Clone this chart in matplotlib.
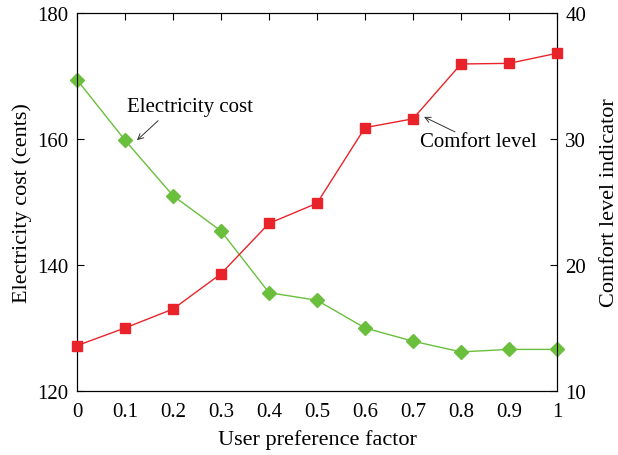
import matplotlib.pyplot as plt

plt.rcParams['font.family'] = 'Liberation Serif'

# User preference factor
factor = [0, 0.1, 0.2, 0.3, 0.4, 0.5, 0.6, 0.7, 0.8, 0.9, 1.0]
tick_labels = ['0', '0.1', '0.2', '0.3', '0.4', '0.5', '0.6', '0.7', '0.8', '0.9', '1']

# Electricity cost (cents), left axis
cost = [169.4, 159.8, 151.0, 145.4, 135.6, 134.4, 130.0, 127.9, 126.2, 126.6, 126.6]

# Comfort level indicator, right axis
comfort = [13.6, 15.0, 16.5, 19.3, 23.3, 24.9, 30.9, 31.6, 35.95, 36.0, 36.8]

green = '#6abf3c'
red = '#e8242a'

fig = plt.figure(figsize=(6.18, 4.56), dpi=100)
ax = fig.add_axes([0.1246, 0.1404, 0.7767, 0.8290])
ax2 = ax.twinx()

ax.plot(factor, cost, color=green, marker='D', markersize=7, linewidth=1, clip_on=False, zorder=3)
ax2.plot(factor, comfort, color=red, marker='s', markersize=7.5, linewidth=1, clip_on=False, zorder=3)

ax.set_xlim(0, 1)
ax.set_ylim(120, 180)
ax2.set_ylim(10, 40)
ax.set_xticks(factor)
ax.set_xticklabels(tick_labels)
ax.set_yticks([120, 140, 160, 180])
ax2.set_yticks([10, 20, 30, 40])

ax.tick_params(axis='x', direction='in', top=True, bottom=False, length=5, labelsize=15, pad=8)
ax.tick_params(axis='y', direction='in', length=5, labelsize=15, pad=6)
ax2.tick_params(axis='y', direction='in', length=5, labelsize=15, pad=6)

ax.set_xlabel('User preference factor', fontsize=16, labelpad=6)
ax.set_ylabel('Electricity cost (cents)', fontsize=16, labelpad=4)
ax2.set_ylabel('Comfort level indicator', fontsize=16, labelpad=10)

arrow = dict(arrowstyle='->', color='#333333', lw=0.7, shrinkA=0, shrinkB=0)
ax.text(0.104, 165.2, 'Electricity cost', fontsize=15, va='center')
ax.annotate('', xy=(0.125, 159.8), xytext=(0.169, 162.9), arrowprops=arrow)
ax2.text(0.715, 29.76, 'Comfort level', fontsize=15, va='center')
ax2.annotate('', xy=(0.723, 31.75), xytext=(0.7875, 30.56), arrowprops=arrow)

plt.savefig('out.png', dpi=100)
